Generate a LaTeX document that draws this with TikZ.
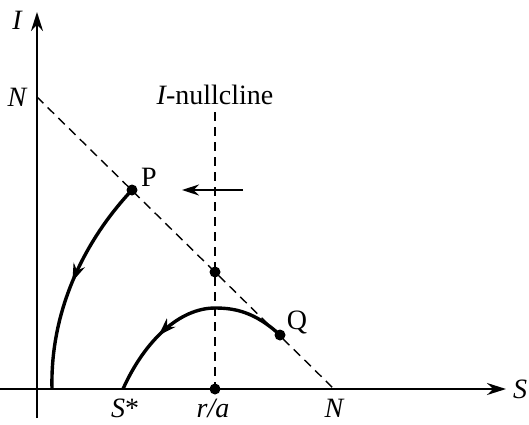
\documentclass[tikz,border=0pt]{standalone}
\usepackage{fontspec}
\setmainfont{Liberation Serif}
\usetikzlibrary{arrows.meta,decorations.markings}
\begin{document}
\begin{tikzpicture}[x=1pt,y=-1pt,
  lab/.style={font=\fontsize{28}{31}\selectfont, inner sep=0pt},
  axis/.style={line width=2pt, -{Stealth[length=19pt,width=12pt]}},
  dashln/.style={line width=1.4pt, dash pattern=on 9pt off 6pt},
  dot/.style={circle, fill=black, inner sep=0pt, minimum size=11pt},
  traj/.style={line width=3.4pt, postaction={decorate},
    decoration={markings, mark=at position #1 with {\arrow{Stealth[length=18pt,width=12pt]}}}},
  traj/.default=0.5]
\useasboundingbox (0,0) rectangle (529,424);
% coordinates
\coordinate (ytop) at (37,12);
\coordinate (ybot) at (37,418);
\coordinate (xleft) at (0,389);
\coordinate (xright) at (506,389);
\coordinate (Ny) at (37,97);
\coordinate (Nx) at (334,389);
\coordinate (ntop) at (215,112);
\coordinate (nbot) at (215,389);
\coordinate (arrS) at (243,190);
\coordinate (arrE) at (182,190);
\coordinate (end1) at (52,389);
\coordinate (peak) at (215,308);
\coordinate (end2) at (123,389);
% axes
\draw[axis] (ybot) -- (ytop);
\draw[axis] (xleft) -- (xright);
% nullclines
\draw[dashln] (Ny) -- (Nx);
\draw[dashln] (ntop) -- (nbot);
% dots
\node[dot] (P) at (132,190) {};
\node[dot] (Q) at (280,335) {};
\node[dot] (X) at (215,272) {};
\node[dot] (B) at (215,389) {};
% trajectories
\draw[traj=0.5] (P.center) .. controls (85,240) and (50,310) .. (end1);
\draw[line width=3.4pt] (Q.center) .. controls (255,312) and (235,308) .. (peak);
\draw[traj=0.5] (peak) .. controls (180,308) and (145,340) .. (end2);
% horizontal arrow
\draw[line width=1.6pt, -{Stealth[length=17pt,width=11pt]}] (arrS) -- (arrE);
% labels
\node[lab] (lI) at (17,20) {\itshape I};
\node[lab] (lS) at (520,389) {\itshape S};
\node[lab] (lNy) at (17,97) {\itshape N};
\node[lab] (lNx) at (334,408) {\itshape N};
\node[lab] (lSs) at (125,408) {{\itshape S}*};
\node[lab] (lra) at (213,408) {\itshape r/a};
\node[lab] (lnull) at (215,95) {{\itshape I}-nullcline};
\node[lab] (lP) at (149,177) {P};
\node[lab] (lQ) at (297,322) {Q};
\end{tikzpicture}
\end{document}
